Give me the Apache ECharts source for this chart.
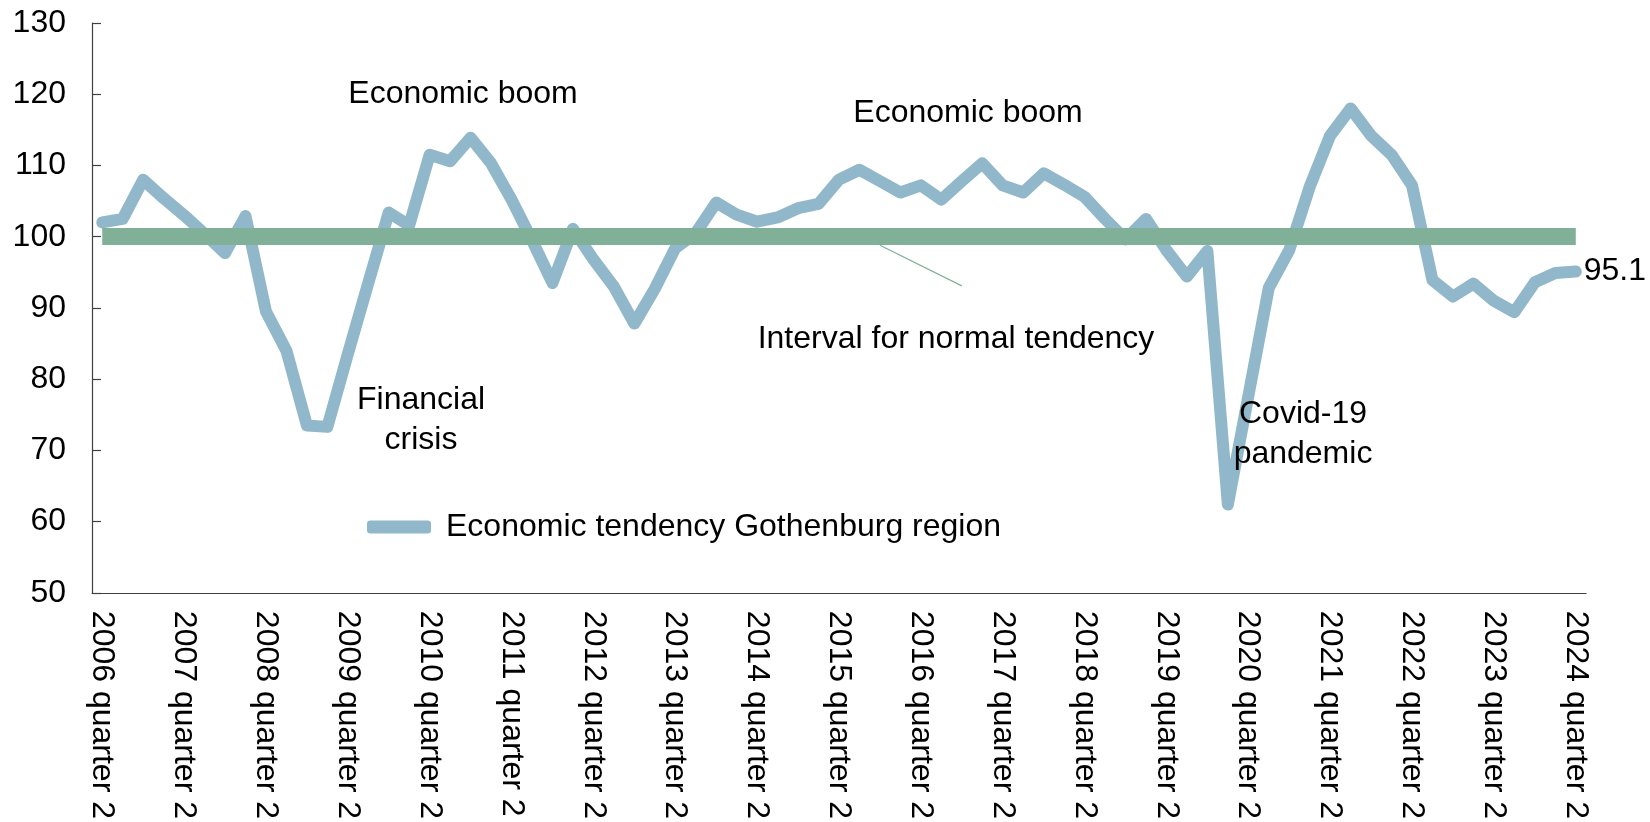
<!DOCTYPE html>
<html>
<head>
<meta charset="utf-8">
<script src="https://cdn.jsdelivr.net/npm/echarts@6/dist/echarts.min.js"></script>
<style>
  html, body { margin: 0; padding: 0; background: #fff; }
  #chart { width: 1650px; height: 822px; }
</style>
</head>
<body>
<div id="chart"></div>
<script>
// ---- Data ----
// Quarters 2006 quarter 2 .. 2024 quarter 2
const startYear = 2006, startQuarter = 2, quarterCount = 73;
const categories = [];
for (let k = 0; k < quarterCount; k++) {
  const q = (startQuarter - 1 + k);
  categories.push((startYear + Math.floor(q / 4)) + ' quarter ' + (q % 4 + 1));
}

const tendencyValues = [
  102.0, 102.5, 108.0, 105.4, 103.0, 100.4, 97.7,            // 2006Q2-2007Q4
  102.9, 89.5, 84.0, 73.5, 73.3, 83.5, 93.5,                  // 2008Q1-2009Q3
  103.4, 101.6, 111.5, 110.6, 113.9, 110.3, 105.2, 99.5,      // 2009Q4-2011Q3
  93.5, 101.1, 96.8, 93.0, 87.8, 92.7, 98.4, 100.5,           // 2011Q4-2013Q3
  104.8, 103.1, 102.1, 102.7, 104.0, 104.6, 108.0, 109.4,     // 2013Q4-2015Q3
  107.8, 106.2, 107.2, 105.2, 107.8, 110.3, 107.2, 106.2,     // 2015Q4-2017Q3
  108.9, 107.3, 105.6, 102.5, 99.6, 102.5, 98.1, 94.4,        // 2017Q4-2019Q3
  98.0, 62.4, 77.6, 92.8, 98.1, 107.0, 114.2, 118.0,          // 2019Q4-2021Q3
  114.2, 111.5, 107.2, 93.9, 91.6, 93.4, 91.0, 89.4,          // 2021Q4-2023Q3
  93.6, 94.9, 95.1                                            // 2023Q4-2024Q2
];

const normalLevel = 100;
const seriesName = 'Economic tendency Gothenburg region';
const yTicks = { min: 50, max: 130, interval: 10 };

const annotations = [
  { text: 'Economic boom', x: 463, y: 94 },
  { text: 'Economic boom', x: 968, y: 113 },
  { text: 'Financial\ncrisis', x: 421, y: 420 },
  { text: 'Interval for normal tendency', x: 956, y: 339 },
  { text: 'Covid-19\npandemic', x: 1303, y: 434 }
];

// ---- Chart ----
const FONT = '"Liberation Sans", Arial, sans-serif';
const FS = 32;
const chart = echarts.init(document.getElementById('chart'), null, { renderer: 'canvas' });

const option = {
  animation: false,
  backgroundColor: '#ffffff',
  textStyle: { fontFamily: FONT, color: '#000' },
  grid: { left: 92, right: 64, top: 23, bottom: 228, containLabel: false },
  legend: {
    left: 362, top: 506,
    itemWidth: 64, itemHeight: 13,
    data: [{ name: seriesName, icon: 'roundRect' }],
    textStyle: { fontFamily: FONT, fontSize: FS, color: '#000', padding: [0, 0, 0, 10] },
    itemStyle: { color: '#91b8ca', borderRadius: 6.5 },
    selectedMode: false
  },
  xAxis: {
    type: 'category',
    data: categories,
    boundaryGap: true,
    axisLine: { lineStyle: { color: '#404040', width: 1.2 } },
    axisTick: { inside: true, length: 9, interval: 0, lineStyle: { color: '#404040', width: 1.2 } },
    axisLabel: {
      interval: 3, rotate: -90, margin: 18,
      fontFamily: FONT, fontSize: FS, color: '#000'
    },
    splitLine: { show: false }
  },
  yAxis: {
    type: 'value',
    min: yTicks.min, max: yTicks.max, interval: yTicks.interval,
    axisLine: { show: true, lineStyle: { color: '#404040', width: 1.2 } },
    axisTick: { show: true, inside: true, length: 9, lineStyle: { color: '#404040', width: 1.2 } },
    axisLabel: { margin: 26, fontFamily: FONT, fontSize: FS, color: '#000' },
    splitLine: { show: false }
  },
  series: [
    {
      name: 'normal',
      type: 'line',
      data: [],
      silent: true,
      z: 1,
      markLine: {
        silent: true,
        symbol: ['none', 'none'],
        label: { show: false },
        lineStyle: { color: '#80b098', width: 17, type: 'solid', cap: 'butt' },
        data: [[
          { coord: [categories[0], normalLevel] },
          { coord: [categories[categories.length - 1], normalLevel] }
        ]]
      }
    },
    {
      name: seriesName,
      type: 'line',
      data: tendencyValues,
      z: 3,
      showSymbol: false,
      symbol: 'none',
      lineStyle: { color: '#91b8ca', width: 12, cap: 'round', join: 'round' },
      itemStyle: { color: '#91b8ca' },
      endLabel: {
        show: true,
        distance: 8,
        formatter: p => String(p.value),
        fontFamily: FONT, fontSize: FS, color: '#000'
      }
    }
  ]
};
chart.setOption(option);

// Annotations (text) and leader line from the band
const p1 = chart.convertToPixel({ gridIndex: 0 }, [38.0, 98.8]);
const p2 = chart.convertToPixel({ gridIndex: 0 }, [41.7, 93.1]);
const graphics = annotations.map(a => ({
  type: 'text',
  x: a.x, y: a.y,
  style: {
    text: a.text,
    fill: '#000',
    font: FS + 'px ' + FONT,
    align: 'center',
    verticalAlign: 'middle',
    lineHeight: 40
  },
  z: 10
}));
graphics.push({
  type: 'line',
  shape: { x1: p1[0], y1: p1[1], x2: p2[0], y2: p2[1] },
  style: { stroke: '#80b098', lineWidth: 1.2 },
  z: 2
});
chart.setOption({ graphic: graphics });
</script>
</body>
</html>
